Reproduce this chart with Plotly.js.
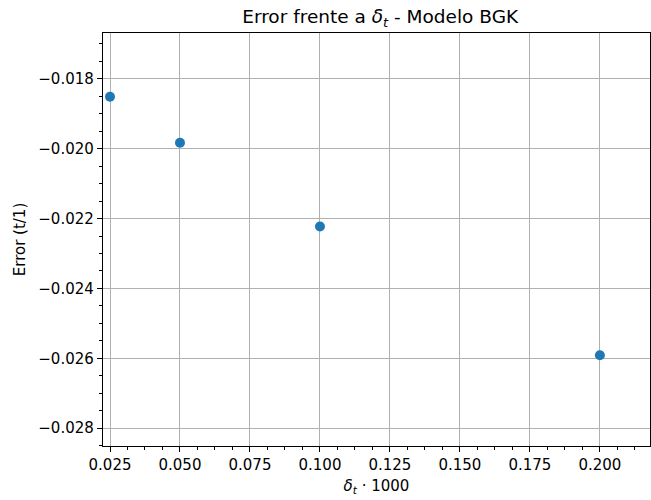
<!DOCTYPE html>
<html>
<head>
<meta charset="utf-8">
<script src="https://cdn.plot.ly/plotly-3.0.1.min.js"></script>
<style>html,body{margin:0;padding:0;background:#fff;}#chart{width:651px;height:500px;}</style>
</head>
<body>
<div id="chart"></div>
<script>
const deltaT = [0.025, 0.05, 0.1, 0.2];
const errorValues = [-0.018515, -0.019830, -0.022230, -0.025915];
const xTickVals = [0.025, 0.05, 0.075, 0.1, 0.125, 0.15, 0.175, 0.2];
const yTickVals = [-0.018, -0.020, -0.022, -0.024, -0.026, -0.028];

const font = {family: 'DejaVu Sans, sans-serif', color: '#000'};

const trace = {
  x: deltaT,
  y: errorValues,
  type: 'scatter',
  mode: 'markers',
  marker: {color: '#1f77b4', size: 10},
  hoverinfo: 'none'
};

const layout = {
  width: 651, height: 500,
  margin: {l: 103, r: 1, t: 33, b: 54},
  paper_bgcolor: '#fff', plot_bgcolor: '#fff',
  showlegend: false,
  font: font,
  title: {text: 'Error frente a <i>δ</i><sub><i>t</i></sub> - Modelo BGK', font: {family: font.family, size: 18.5, color: '#000'}, x: 0.584, xanchor: 'center', y: 0.98, yanchor: 'top'},
  xaxis: {
    range: [0.0225, 0.2179],
    tickvals: xTickVals,
    tickformat: '.3f',
    ticks: 'outside', ticklen: 5, tickwidth: 1, tickcolor: '#000',
    tickfont: {family: font.family, size: 15, color: '#000'},
    showline: true, linecolor: '#000', linewidth: 1.2, mirror: true,
    showgrid: true, gridcolor: '#b0b0b0', gridwidth: 1,
    zeroline: false,
    minor: {dtick: 0.00625, tick0: 0, ticks: 'outside', ticklen: 3, tickcolor: '#000', showgrid: false},
    title: {text: '<i>δ</i><sub><i>t</i></sub> · 1000', font: {family: font.family, size: 15, color: '#000'}, standoff: 7}
  },
  yaxis: {
    range: [-0.02851, -0.01669],
    tickvals: yTickVals,
    tickformat: '.3f',
    ticks: 'outside', ticklen: 5, tickwidth: 1, tickcolor: '#000',
    tickfont: {family: font.family, size: 15, color: '#000'},
    showline: true, linecolor: '#000', linewidth: 1.2, mirror: true,
    showgrid: true, gridcolor: '#b0b0b0', gridwidth: 1,
    zeroline: false,
    minor: {dtick: 0.0005, tick0: 0, ticks: 'outside', ticklen: 3, tickcolor: '#000', showgrid: false},
    title: {text: 'Error (t/1)', font: {family: font.family, size: 15, color: '#000'}, standoff: 9}
  }
};

Plotly.newPlot('chart', [trace], layout, {displayModeBar: false, staticPlot: true});
</script>
</body>
</html>
